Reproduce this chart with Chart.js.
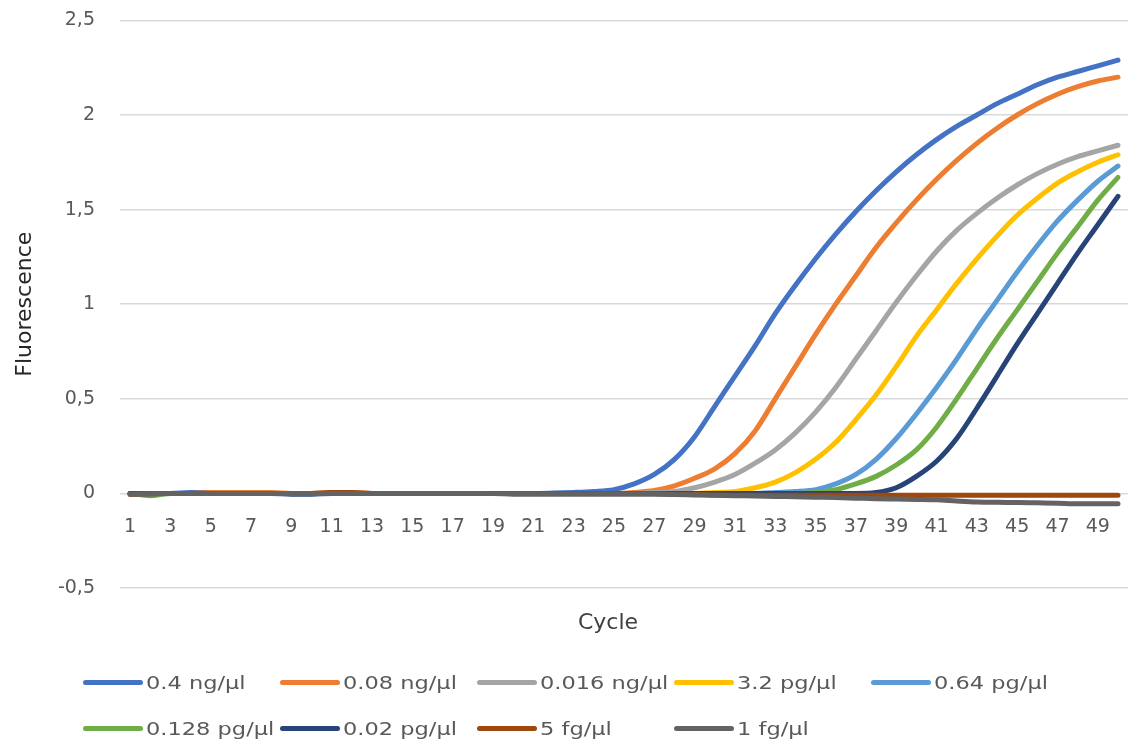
<!DOCTYPE html>
<html><head><meta charset="utf-8">
<script src="https://cdn.jsdelivr.net/npm/chart.js@4"></script>
<style>
html,body{margin:0;padding:0;background:#fff;overflow:hidden;width:1135px;height:741px;position:relative;}
#wrap{position:absolute;left:0;top:-16px;width:1140px;height:757px;}
#xtitle{position:absolute;left:508px;width:200px;top:609px;line-height:26px;text-align:center;font-family:'DejaVu Sans';font-size:22px;color:#404040;}
.leg{position:absolute;height:26px;display:flex;align-items:center;font-family:'DejaVu Sans';font-size:18px;color:#595959;white-space:nowrap;}
.leg .ln{display:inline-block;width:60px;height:5px;border-radius:3px;margin-right:3px;}
.leg .tx{display:inline-block;transform:scaleX(1.25);transform-origin:left center;}
</style></head>
<body>
<div id="wrap"><canvas id="c" width="1140" height="757"></canvas></div>
<div id="xtitle">Cycle</div>
<div id="legend"></div>
<script>
const cycles = ['1','2','3','4','5','6','7','8','9','10','11','12','13','14','15','16','17','18','19','20','21','22','23','24','25','26','27','28','29','30','31','32','33','34','35','36','37','38','39','40','41','42','43','44','45','46','47','48','49','50'];
const seriesNames = ['0.4 ng/µl','0.08 ng/µl','0.016 ng/µl','3.2 pg/µl','0.64 pg/µl','0.128 pg/µl','0.02 pg/µl','5 fg/µl','1 fg/µl'];
const seriesColors = ['#4472C4','#ED7D31','#A5A5A5','#FFC000','#5B9BD5','#70AD47','#264478','#9E480E','#636363'];
const yTicks = [-0.5, 0, 0.5, 1, 1.5, 2, 2.5];

const s04ng = [0,0,0,0.005,0.005,0.005,0.005,0,0,0,0,0,0,0,0,0,0,0,0,0,0,0.002,0.005,0.01,0.02,0.05,0.1,0.18,0.3,0.46,0.62,0.78,0.95,1.1,1.24,1.37,1.49,1.6,1.7,1.79,1.87,1.94,2.0,2.06,2.11,2.16,2.2,2.23,2.26,2.29];
const s008ng = [-0.005,0,0,0,0.005,0.005,0.005,0.005,0,0,0.005,0.005,0,0,0,0,0,0,0,0,0,0,0,0,0,0.005,0.015,0.04,0.08,0.13,0.21,0.33,0.5,0.67,0.84,1.0,1.15,1.3,1.43,1.55,1.66,1.76,1.85,1.93,2.0,2.06,2.11,2.15,2.18,2.2];
const s0016ng = [0,0,0,0,0,0,0,0,0,0,0,0,0,0,0,0,0,0,0,0,0,0,0,0,0,0,0.005,0.01,0.03,0.06,0.1,0.16,0.23,0.32,0.43,0.56,0.71,0.86,1.01,1.15,1.28,1.39,1.48,1.56,1.63,1.69,1.74,1.78,1.81,1.84];
const s32pg = [0,0,0,0,0,0,0,0,0,0,0,0,0,0,0,0,0,0,0,0,0,0,0,0,0,0,0,0,0,0.005,0.01,0.03,0.06,0.11,0.18,0.27,0.39,0.52,0.67,0.83,0.97,1.11,1.24,1.36,1.47,1.56,1.64,1.7,1.75,1.79];
const s064pg = [0,0,0,0,0,0,0,0,0,0,0,0,0,0,0,0,0,0,0,0,0,0,0,0,0,0,0,0,0,0,0,0,0.005,0.01,0.02,0.05,0.1,0.18,0.29,0.42,0.56,0.71,0.87,1.02,1.17,1.31,1.44,1.55,1.65,1.73];
const s0128pg = [0,-0.012,0,0,0,0,0,0,0,0,0,0,0,0,0,0,0,0,0,0,0,0,0,0,0,0,0,0,0,0,0,0,0,0,0.005,0.02,0.05,0.09,0.15,0.23,0.35,0.5,0.66,0.82,0.97,1.12,1.27,1.41,1.55,1.67];
const s002pg = [0,0,0,0,0,0,0,0,-0.005,-0.005,0,0,0,0,0,0,0,0,0,0,0,0,0,0,0,0,0,0,0,0,0,0,0,0,0,0,0,0.005,0.03,0.09,0.17,0.29,0.45,0.62,0.79,0.95,1.11,1.27,1.42,1.57];
const s5fg = [-0.005,0,0,0,0,0,0,0,0,0,0.005,0.005,0,0,0,0,0,0,0,0,0,0,0,0,0,0,0,-0.005,-0.005,-0.008,-0.01,-0.01,-0.01,-0.01,-0.01,-0.01,-0.01,-0.01,-0.01,-0.01,-0.01,-0.01,-0.01,-0.01,-0.01,-0.01,-0.01,-0.01,-0.01,-0.01];
const s1fg = [-0.005,-0.005,0,0,0,0,0,0,0,0,0,0,0,0,0,0,0,0,0,-0.005,-0.005,-0.005,-0.005,-0.005,-0.005,-0.005,-0.005,-0.006,-0.008,-0.01,-0.012,-0.014,-0.016,-0.018,-0.02,-0.022,-0.025,-0.028,-0.03,-0.032,-0.034,-0.04,-0.045,-0.047,-0.048,-0.05,-0.052,-0.055,-0.055,-0.055];

const seriesValues = [s04ng, s008ng, s0016ng, s32pg, s064pg, s0128pg, s002pg, s5fg, s1fg];

const datasets = seriesValues.map((vals, i) => ({
  label: seriesNames[i],
  data: vals,
  borderColor: seriesColors[i],
  backgroundColor: seriesColors[i],
  borderWidth: 5,
  pointRadius: 0,
  cubicInterpolationMode: 'monotone',
  borderCapStyle: 'round',
  borderJoinStyle: 'round',
  fill: false,
  order: seriesValues.length - i
}));

new Chart(document.getElementById('c'), {
  type: 'line',
  data: { labels: cycles, datasets },
  options: {
    responsive: false,
    animation: false,
    layout: { padding: { top: 3, bottom: 153, left: 0, right: 1.5 } },
    plugins: { legend: { display: false }, tooltip: { enabled: false } },
    scales: {
      x: {
        position: { y: 0 },
        offset: true,
        grid: { display: false, drawTicks: false },
        border: { display: false },
        ticks: {
          autoSkip: false, maxRotation: 0, minRotation: 0, padding: 22,
          color: '#595959', font: { family: 'DejaVu Sans', size: 19 },
          callback: function (v, i) { return i % 2 === 0 ? this.getLabelForValue(v) : ''; }
        }
      },
      y: {
        min: -0.5, max: 2.5,
        afterBuildTicks: (scale) => { scale.ticks = yTicks.map(v => ({ value: v })); },
        ticks: {
          padding: 25, color: '#595959', font: { family: 'DejaVu Sans', size: 19 },
          callback: (v) => String(v).replace('.', ',')
        },
        grid: { color: '#d9d9d9', lineWidth: 1.5, drawTicks: false },
        border: { display: false },
        title: { display: true, text: 'Fluorescence', color: '#262626', font: { family: 'DejaVu Sans', size: 22 }, padding: { top: 12, bottom: 0 } },
        afterFit: (scale) => { scale.width = 120; }
      }
    }
  }
});

const legendEl = document.getElementById('legend');
seriesNames.forEach((name, i) => {
  const row = Math.floor(i / 5), col = i % 5;
  const d = document.createElement('div');
  d.className = 'leg';
  d.style.left = (83 + col * 197) + 'px';
  d.style.top = (row === 0 ? 669 : 715) + 'px';
  d.innerHTML = '<span class="ln" style="background:' + seriesColors[i] + '"></span><span class="tx">' + name + '</span>';
  legendEl.appendChild(d);
});
</script>
</body></html>
